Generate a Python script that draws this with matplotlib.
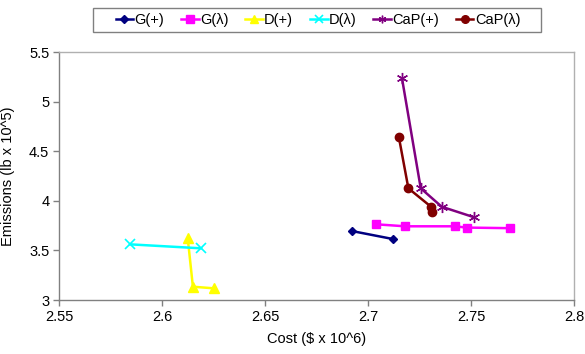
import matplotlib
matplotlib.use("Agg")
import matplotlib.pyplot as plt
from matplotlib.patches import Rectangle

plt.rcParams['font.family'] = ['Liberation Sans', 'DejaVu Sans']

# Cost ($ x 10^6) and emissions (lb x 10^5) for each scheme
g_plus_cost = [2.692, 2.712]
g_plus_emis = [3.696, 3.615]

g_lam_cost = [2.704, 2.718, 2.742, 2.748, 2.769]
g_lam_emis = [3.763, 3.743, 3.743, 3.730, 3.724]

d_plus_cost = [2.6125, 2.615, 2.625]
d_plus_emis = [3.622, 3.134, 3.118]

d_lam_cost = [2.5845, 2.619]
d_lam_emis = [3.561, 3.521]

cap_plus_cost = [2.7165, 2.7256, 2.7358, 2.7515]
cap_plus_emis = [5.235, 4.126, 3.940, 3.834]

cap_lam_cost = [2.715, 2.7196, 2.7306, 2.7311]
cap_lam_emis = [4.640, 4.126, 3.940, 3.887]

x_ticks = [2.55, 2.6, 2.65, 2.7, 2.75, 2.8]
x_tick_labels = ['2.55', '2.6', '2.65', '2.7', '2.75', '2.8']
y_ticks = [3, 3.5, 4, 4.5, 5, 5.5]
y_tick_labels = ['3', '3.5', '4', '4.5', '5', '5.5']

W, H = 585, 354
fig = plt.figure(figsize=(W / 100, H / 100), dpi=100)
ax = fig.add_axes([59 / W, 54 / H, 515 / W, 248 / H])

lw = 1.8
ax.plot(g_plus_cost, g_plus_emis, color='#000080', marker='D', ms=4.5, lw=lw, label='G(+)')
ax.plot(g_lam_cost, g_lam_emis, color='#FF00FF', marker='s', ms=6, lw=lw, label='G(λ)')
ax.plot(d_plus_cost, d_plus_emis, color='#FFFF00', marker='^', ms=6.5, lw=lw, label='D(+)')
ax.plot(d_lam_cost, d_lam_emis, color='#00FFFF', marker='x', ms=6.5, mew=1.2, lw=lw, label='D(λ)')
ax.plot(cap_plus_cost, cap_plus_emis, color='#800080', marker=(6, 2, 0), ms=8, mew=1.0, lw=lw, label='CaP(+)')
ax.plot(cap_lam_cost, cap_lam_emis, color='#800000', marker='o', ms=6, lw=lw, label='CaP(λ)')

ax.set_xlim(2.55, 2.8)
ax.set_ylim(3, 5.5)
ax.set_xticks(x_ticks)
ax.set_xticklabels(x_tick_labels)
ax.set_yticks(y_ticks)
ax.set_yticklabels(y_tick_labels)

for side in ['left', 'bottom']:
    ax.spines[side].set_color('#808080')
    ax.spines[side].set_linewidth(1.0)
for side in ['top', 'right']:
    ax.spines[side].set_color('#b0b0b0')
    ax.spines[side].set_linewidth(1.0)

ax.tick_params(axis='both', direction='out', length=4, width=1.0, color='#808080',
               labelsize=10.5, labelcolor='black', pad=3)

ax.set_xlabel('Cost ($ x 10^6)', fontsize=10.5, labelpad=6)
ax.set_ylabel('Emissions (lb x 10^5)', fontsize=10.5, labelpad=10)

# Legend entries in one row, with a separate rectangular frame around them
leg = fig.legend(loc='center', bbox_to_anchor=(318 / W, 1 - 20 / H), ncol=6,
                 fontsize=10.5, frameon=False, handlelength=1.2,
                 handletextpad=0.1, columnspacing=1.15, borderpad=0, borderaxespad=0)
for h in leg.legend_handles:
    h.set_markersize(min(h.get_markersize(), 5.5))

fig.add_artist(Rectangle((93 / W, 1 - 32 / H), 448 / W, 24 / H,
                         transform=fig.transFigure, fill=False,
                         edgecolor='#808080', linewidth=1.0))

fig.savefig('out.png', dpi=100)
